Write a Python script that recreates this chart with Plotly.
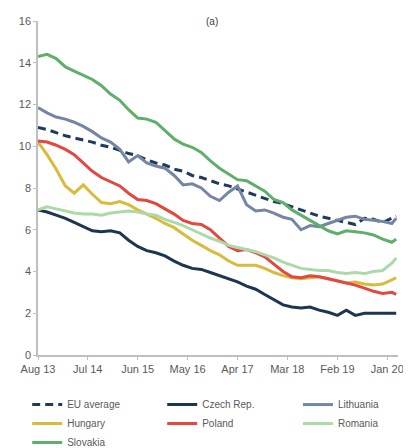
import pandas as pd
import plotly.graph_objects as go

# month offsets from Aug 2013
months = [0, 2, 4, 6, 8, 10, 12, 14, 16, 18, 20, 22, 24, 26, 28, 30, 32, 34, 36, 38,
          40, 42, 44, 46, 48, 50, 52, 54, 56, 58, 60, 62, 64, 66, 68, 70, 72, 74, 76, 78, 79]

eu_average = [10.9, 10.8, 10.65, 10.5, 10.4, 10.3, 10.2, 10.05, 9.95, 9.8, 9.65, 9.55, 9.35, 9.2, 9.1,
              8.9, 8.8, 8.6, 8.5, 8.35, 8.2, 8.1, 7.95, 7.8, 7.65, 7.5, 7.35, 7.25, 7.1, 6.95,
              6.8, 6.65, 6.55, 6.45, 6.35, 6.25, 6.55, 6.5, 6.35, 6.55, 6.65]
czech = [6.95, 6.85, 6.7, 6.55, 6.35, 6.15, 5.95, 5.9, 5.95, 5.85, 5.5, 5.2, 5.0, 4.9, 4.75,
         4.5, 4.3, 4.15, 4.1, 3.95, 3.8, 3.65, 3.5, 3.3, 3.15, 2.9, 2.65, 2.4, 2.3, 2.25,
         2.3, 2.15, 2.05, 1.9, 2.15, 1.9, 2.0, 2.0, 2.0, 2.0, 2.0]
lithuania = [11.85, 11.6, 11.4, 11.3, 11.15, 10.95, 10.7, 10.4, 10.2, 9.85, 9.25, 9.55, 9.2, 9.05, 8.95,
             8.6, 8.15, 8.2, 8.0, 7.6, 7.4, 7.8, 8.1, 7.2, 6.9, 6.95, 6.8, 6.6, 6.5, 6.0,
             6.2, 6.15, 6.3, 6.45, 6.6, 6.65, 6.5, 6.45, 6.4, 6.3, 6.55]
hungary = [10.2, 9.6, 8.9, 8.1, 7.75, 8.15, 7.7, 7.3, 7.25, 7.35, 7.2, 6.95, 6.75, 6.55, 6.3,
           6.1, 5.8, 5.5, 5.25, 5.0, 4.8, 4.5, 4.3, 4.3, 4.3, 4.15, 3.95, 3.8, 3.7, 3.65,
           3.7, 3.75, 3.65, 3.55, 3.45, 3.5, 3.4, 3.35, 3.4, 3.6, 3.7]
poland = [10.25, 10.2, 10.05, 9.85, 9.6, 9.2, 8.8, 8.5, 8.3, 8.1, 7.75, 7.45, 7.4, 7.25, 7.0,
          6.75, 6.45, 6.3, 6.25, 6.0, 5.6, 5.2, 5.0, 5.05, 4.9, 4.7, 4.35, 4.0, 3.75, 3.7,
          3.8, 3.75, 3.65, 3.55, 3.45, 3.35, 3.2, 3.05, 2.95, 3.0, 2.9]
romania = [6.95, 7.1, 7.0, 6.9, 6.8, 6.75, 6.75, 6.7, 6.8, 6.85, 6.9, 6.85, 6.75, 6.7, 6.5,
           6.35, 6.2, 6.0, 5.8, 5.6, 5.45, 5.25, 5.15, 5.05, 4.95, 4.8, 4.65, 4.45, 4.3, 4.15,
           4.1, 4.05, 4.05, 3.95, 3.9, 3.95, 3.9, 4.0, 4.05, 4.4, 4.65]
slovakia = [14.3, 14.4, 14.2, 13.8, 13.6, 13.4, 13.2, 12.9, 12.5, 12.2, 11.75, 11.35, 11.3, 11.15, 10.75,
            10.35, 10.1, 9.95, 9.7, 9.3, 8.95, 8.65, 8.4, 8.35, 8.1, 7.85, 7.45, 7.3, 6.95, 6.7,
            6.45, 6.2, 5.95, 5.8, 5.95, 5.9, 5.85, 5.75, 5.55, 5.4, 5.55]

tick_months = [0, 11, 22, 33, 44, 55, 66, 77]
tick_labels = ["Aug 13", "Jul 14", "Jun 15", "May 16", "Apr 17", "Mar 18", "Feb 19", "Jan 20"]

base = pd.Timestamp("2013-08-01")
def mdate(m):
    whole = int(m)
    frac = m - whole
    d = base + pd.DateOffset(months=whole)
    return d + pd.Timedelta(days=30.4 * frac)

x = [mdate(m) for m in months]

# name, values, colour, dash, legend column
series = [
    ("EU average", eu_average, "#1f3a5c", "8px,5px", "legend"),
    ("Czech Rep.", czech, "#1d3650", "solid", "legend2"),
    ("Lithuania", lithuania, "#7585a3", "solid", "legend3"),
    ("Hungary", hungary, "#d9bb3c", "solid", "legend"),
    ("Poland", poland, "#e2483f", "solid", "legend2"),
    ("Romania", romania, "#acd9a8", "solid", "legend3"),
    ("Slovakia", slovakia, "#5fae6a", "solid", "legend"),
]

fig = go.Figure()
for name, vals, color, dash, leg in series:
    fig.add_trace(go.Scatter(x=x, y=vals, mode="lines", name=name, legend=leg,
                             line=dict(color=color, width=3, dash=dash)))

leg_common = dict(orientation="v", yanchor="top", xanchor="left", y=-0.105,
                  font=dict(size=10, color="#595959"), borderwidth=0,
                  bgcolor="rgba(0,0,0,0)", tracegroupgap=0)

fig.update_layout(
    width=403, height=490,
    margin=dict(l=30, r=7, t=7, b=143),
    paper_bgcolor="white", plot_bgcolor="white",
    font=dict(family="Liberation Sans", size=10, color="#595959"),
    showlegend=True,
    legend=dict(x=-0.03, **leg_common),
    legend2=dict(x=0.345, **leg_common),
    legend3=dict(x=0.722, **leg_common),
    annotations=[dict(text="(a)", x=0.484, y=1.02, xref="paper", yref="paper",
                      xanchor="center", yanchor="top", showarrow=False,
                      font=dict(size=10, color="#404040"))],
)
fig.update_xaxes(range=[mdate(0), mdate(79.4)],
                 tickvals=[mdate(m) for m in tick_months], ticktext=tick_labels,
                 showline=True, linecolor="#bfbfbf", linewidth=1.5,
                 ticks="outside", ticklen=3, tickcolor="#bfbfbf",
                 showgrid=False, zeroline=False,
                 tickfont=dict(size=11, color="#595959"))
fig.update_yaxes(range=[0, 16], dtick=2,
                 showline=True, linecolor="#bfbfbf", linewidth=1.5,
                 ticks="outside", ticklen=3, tickcolor="#bfbfbf",
                 showgrid=False, zeroline=False,
                 tickfont=dict(size=11, color="#595959"))

fig.write_html("out.html")
